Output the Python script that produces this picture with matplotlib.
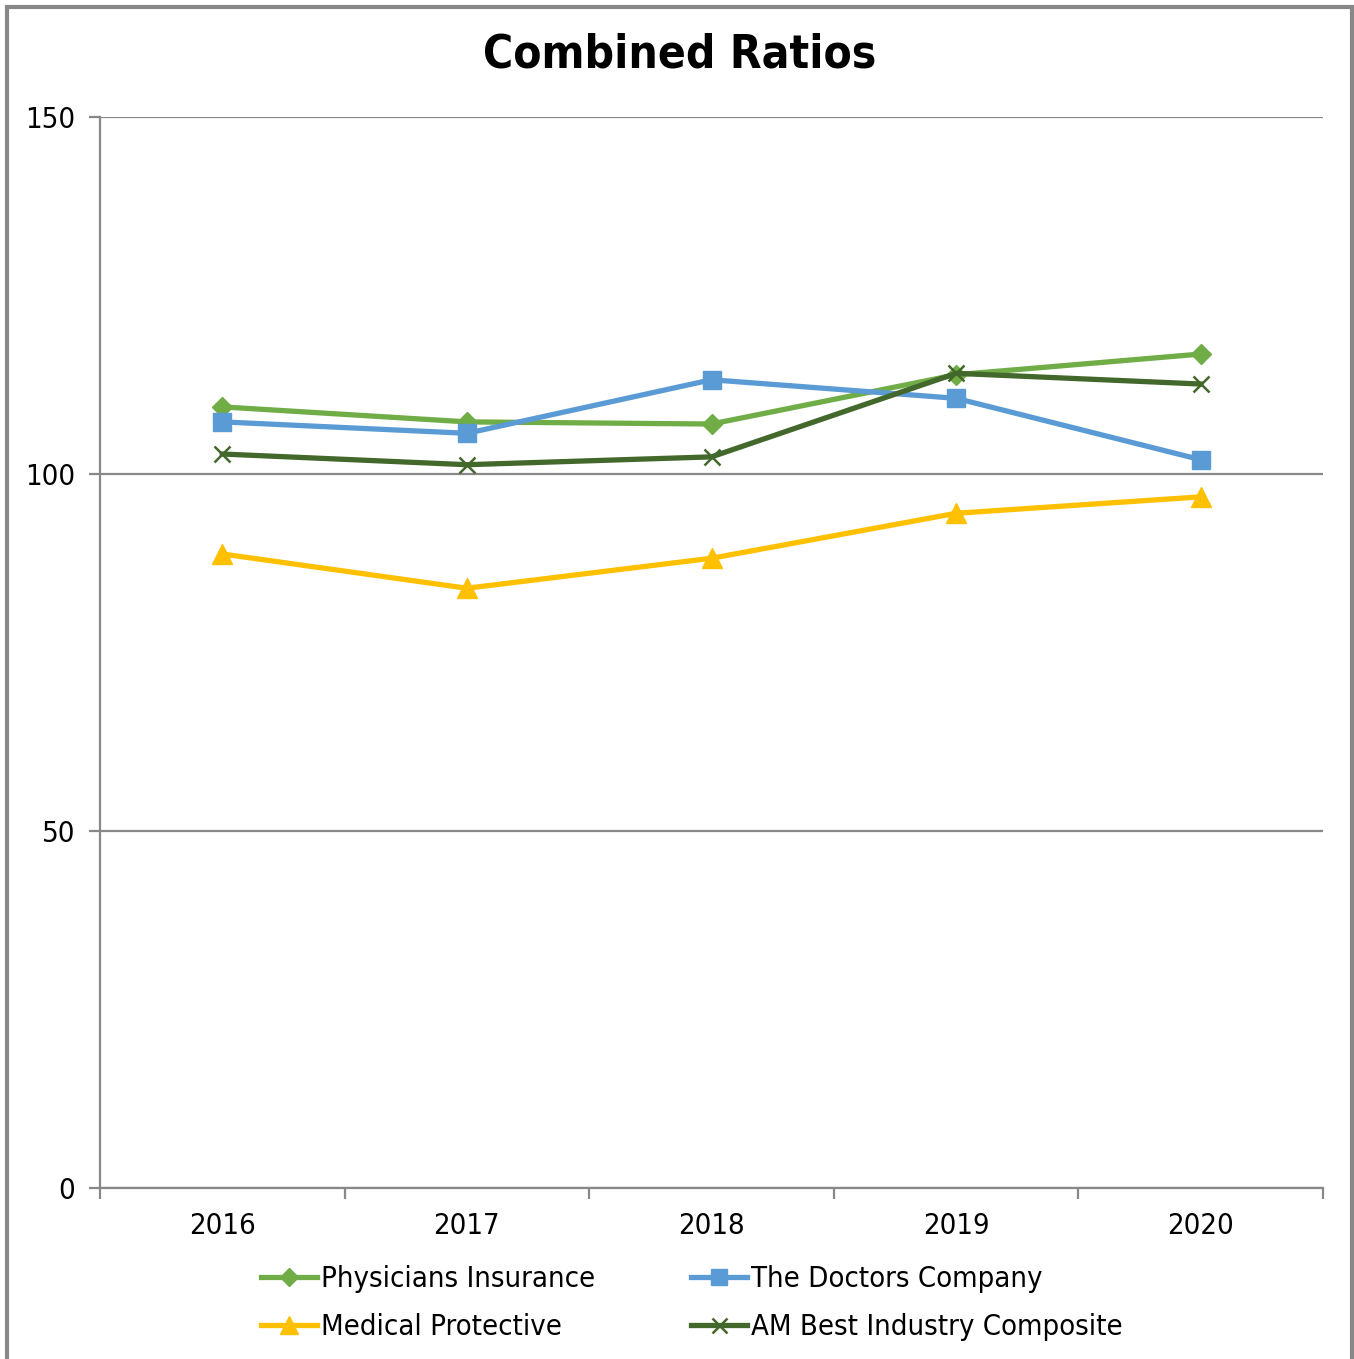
import matplotlib.pyplot as plt
from matplotlib.patches import Rectangle

# Donnees
annees = ['2016', '2017', '2018', '2019', '2020']
physicians = [109.4, 107.3, 107.0, 113.9, 116.8]
doctors = [107.3, 105.7, 113.2, 110.6, 102.0]
medical = [88.8, 84.0, 88.2, 94.5, 96.8]
am_best = [102.8, 101.3, 102.4, 114.1, 112.6]

plt.rcParams['font.family'] = ['DejaVu Sans']
plt.rcParams['font.stretch'] = 'condensed'

fig = plt.figure(figsize=(13.54, 13.59), dpi=100)
ax = fig.add_axes([100/1354, 1 - 1188/1359, 1223/1354, 1071/1359])

x = list(range(len(annees)))
l1, = ax.plot(x, physicians, color='#70ad47', lw=3.8, marker='D', ms=10, label='Physicians Insurance')
l2, = ax.plot(x, doctors, color='#5b9bd5', lw=3.8, marker='s', ms=13, label='The Doctors Company')
l3, = ax.plot(x, medical, color='#ffc000', lw=3.8, marker='^', ms=14, label='Medical Protective')
l4, = ax.plot(x, am_best, color='#43682b', lw=3.8, marker='x', ms=12, mew=1.8, label='AM Best Industry Composite')

ax.set_xlim(-0.5, 4.5)
ax.set_ylim(0, 150)
ax.set_yticks([0, 50, 100, 150])
ax.yaxis.grid(True, color='#888888', lw=1.6)
ax.set_axisbelow(True)
ax.set_xticks([i - 0.5 for i in range(6)])
ax.set_xticklabels([])
ax.set_xticks(x, minor=True)
ax.set_xticklabels(annees, minor=True)
ax.tick_params(axis='x', which='minor', length=0, pad=17, labelsize=21)
ax.tick_params(axis='x', which='major', length=8, width=1.6, color='#888888', direction='out')
ax.tick_params(axis='y', length=8, width=1.6, color='#888888', labelsize=21, pad=10)
for s in ['top', 'right']:
    ax.spines[s].set_visible(False)
for s in ['left', 'bottom']:
    ax.spines[s].set_color('#888888')
    ax.spines[s].set_linewidth(1.6)

fig.text(680/1354, 1 - 55/1359, 'Combined Ratios', ha='center', va='center',
         fontsize=33, fontweight='bold')

fig.legend([l1, l3, l2, l4], [l.get_label() for l in [l1, l3, l2, l4]],
           loc='center', bbox_to_anchor=(692/1354, 1 - 1303/1359), ncol=2, frameon=False,
           fontsize=21, handlelength=1.9, columnspacing=3.3, handletextpad=0.15, labelspacing=0.7,
           markerscale=0.9)

# cadre gris
fig.patches.append(Rectangle((7/1354, -0.01), 1345/1354, 1 - 7/1359 + 0.01, transform=fig.transFigure,
                             fill=False, edgecolor='#888888', lw=3))

fig.savefig('out.png', dpi=100)
